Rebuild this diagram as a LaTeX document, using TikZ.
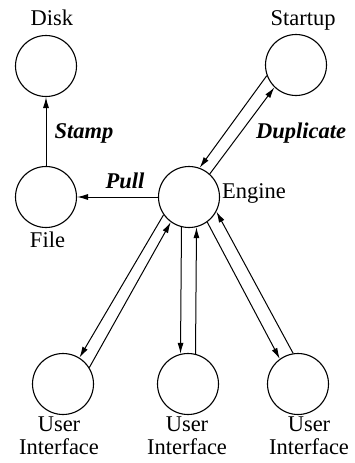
\documentclass[tikz,border=0pt]{standalone}
\usepackage{fontspec}
\setmainfont{Liberation Serif}
\usetikzlibrary{arrows.meta}
\begin{document}
\begin{tikzpicture}[x=1pt,y=-1pt,
  state/.style={circle,draw,line width=1.1pt,minimum size=61pt,inner sep=0pt},
  lbl/.style={font=\fontsize{22.5}{23}\selectfont,inner sep=0pt},
  act/.style={font=\fontsize{22.5}{23}\selectfont\bfseries\itshape,anchor=base,inner sep=0pt},
  conn/.style={line width=1pt,-{Latex[length=11pt,width=6pt]}}]
\useasboundingbox (0,0) rectangle (355,463);
% states
\node[state] (disk) at (46,66) {};
\node[state] (startup) at (296,65) {};
\node[state] (file) at (46,197) {};
\node[state] (engine) at (189,197) {};
\node[state] (ui1) at (63,384) {};
\node[state] (ui2) at (188,384) {};
\node[state] (ui3) at (298,384) {};
% labels
\node[lbl,anchor=base] (disklbl) at (52,25) {Disk};
\node[lbl,anchor=base] (startuplbl) at (303,25) {Startup};
\node[lbl,anchor=base] (filelbl) at (47.5,247) {File};
\node[lbl,anchor=base] (enginelbl) at (254,198) {Engine};
\node[lbl,align=center,anchor=north] (ui1lbl) at (59,417) {User\\Interface};
\node[lbl,align=center,anchor=north] (ui2lbl) at (187,417) {User\\Interface};
\node[lbl,align=center,anchor=north] (ui3lbl) at (309,417) {User\\Interface};
% action labels
\node[act] (pull) at (125,188) {Pull};
\node[act] (stamp) at (84,138) {Stamp};
\node[act] (dup) at (301,138) {Duplicate};
% connectors
\draw[conn] (file.north) -- (disk.south);
\draw[conn] (engine.west) -- (file.east);
\draw[conn] (startup.200) -- (engine.70);
\draw[conn] (engine.48) -- (startup.226);
\draw[conn] (engine.215) -- (ui1.58);
\draw[conn] (ui1.32) -- (engine.234);
\draw[conn] (engine.256) -- (ui2.104);
\draw[conn] (ui2.76) -- (engine.284);
\draw[conn] (engine.306) -- (ui3.126);
\draw[conn] (ui3.99) -- (engine.332);
\end{tikzpicture}
\end{document}
